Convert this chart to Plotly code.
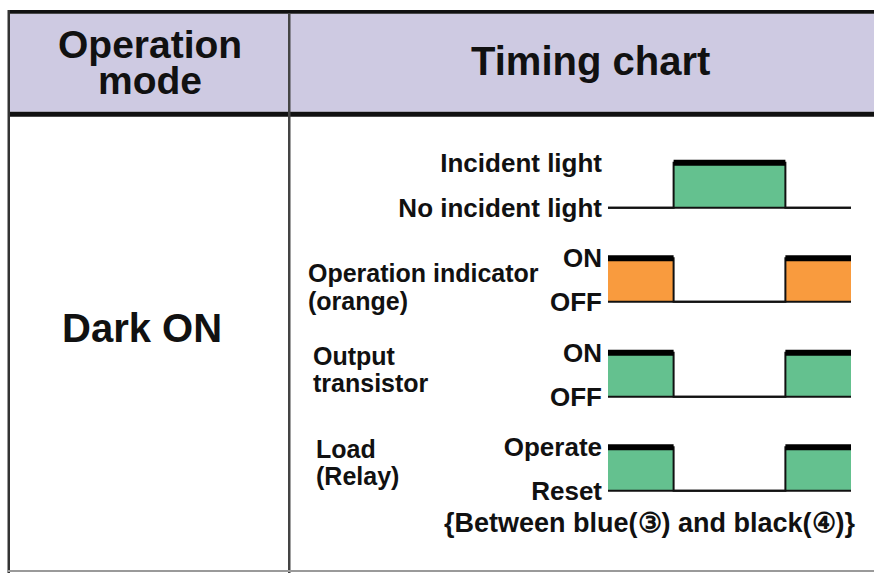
import plotly.graph_objects as go

W, H = 874, 579

# ---- data ----
times = [0, 2.7, 7.3, 10]                      # transition instants (time units)
incident_states = [0, 1, 0]                    # state in each interval
indicator_states = [1, 0, 1]
output_states = [1, 0, 1]
load_states = [1, 0, 1]

signal_states = [incident_states, indicator_states, output_states, load_states]
level_labels = [["No incident light", "Incident light"],
                ["OFF", "ON"],
                ["OFF", "ON"],
                ["Reset", "Operate"]]
side_labels = [None, ["Operation indicator", "(orange)"],
               ["Output", "transistor"], ["Load", "(Relay)"]]
header_left = ["Operation", "mode"]
header_right = "Timing chart"
mode_label = "Dark ON"
footnote = "{Between blue(③) and black(④)}"

# ---- styling / layout ----
fill_colors = ["#64c18f", "#f99b3e", "#64c18f", "#64c18f"]
# pixel rows: (low level, high level centre)
rows_px = [(206, 160), (302, 257.5), (399, 354), (495, 450.5)]
side_px = [None, (306, 273, 301), (311, 357, 385), (314, 452, 480)]
FONT = "Liberation Sans"


def px(x):
    return x / W


def py(y):
    return 1 - y / H


fig = go.Figure()

# x axis (time)
x0_px, x1_px = 608, 851
t0, t1 = times[0], times[-1]
xpad = 0.04
scale = (x1_px - x0_px) / (t1 - t0)
fig.update_layout(xaxis=dict(
    range=[t0 - xpad, t1 + xpad],
    domain=[px(x0_px - xpad * scale), px(x1_px + xpad * scale)],
    visible=False, fixedrange=True))

ypad = 0.2
for i, states in enumerate(signal_states):
    low, high = rows_px[i]
    p0, p1 = py(low), py(high)
    s = p1 - p0
    axname = "yaxis" if i == 0 else f"yaxis{i + 1}"
    yref = "y" if i == 0 else f"y{i + 1}"
    fig.update_layout({axname: dict(
        range=[-ypad, 1 + ypad],
        domain=[p0 - ypad * s, p1 + ypad * s],
        anchor="x",
        tickvals=[0, 1], ticktext=level_labels[i],
        tickfont=dict(family=FONT, size=26, color="#111", weight="bold"),
        ticks="", ticklabelstandoff=4,
        showgrid=False, zeroline=False, showline=False, fixedrange=True)})

    ys = list(states) + [states[-1]]
    # filled area
    fig.add_trace(go.Scatter(x=times, y=ys, yaxis=yref, mode="lines",
                             line=dict(shape="hv", width=0, color=fill_colors[i]),
                             fill="tozeroy", fillcolor=fill_colors[i],
                             hoverinfo="skip", showlegend=False))
    # baseline
    fig.add_trace(go.Scatter(x=[t0, t1], y=[0, 0], yaxis=yref, mode="lines",
                             line=dict(width=2, color="#111"),
                             hoverinfo="skip", showlegend=False))
    # outline with edges
    fig.add_trace(go.Scatter(x=times, y=ys, yaxis=yref, mode="lines",
                             line=dict(shape="hv", width=2, color="#111"),
                             hoverinfo="skip", showlegend=False))
    # thick top bar on high intervals
    bx, by = [], []
    for k, st in enumerate(states):
        if st == 1:
            bx += [times[k], times[k + 1], None]
            by += [1, 1, None]
    fig.add_trace(go.Scatter(x=bx, y=by, yaxis=yref, mode="lines",
                             line=dict(width=6, color="#000"),
                             hoverinfo="skip", showlegend=False))

# ---- table frame ----
shapes = []


def rect(xa, ya, xb, yb, color, layer="below"):
    shapes.append(dict(type="rect", xref="paper", yref="paper",
                       x0=px(xa), x1=px(xb), y0=py(yb), y1=py(ya),
                       fillcolor=color, line=dict(width=0), layer=layer))


rect(9, 8, W, 108, "#cecae2")               # header background
rect(8, 4, W, 8, "#111", "above")           # top rule
rect(8, 108, W, 113, "#111", "above")       # header rule
rect(7.5, 4, 10, H, "#333", "above")        # left rule
rect(288, 8, 290.5, H, "#444", "above")     # column divider
rect(8, 576, W, 578, "#9a9a9a", "above")    # bottom rule

ann = []


def text(x, y, t, size, anchor="center", weight="bold"):
    ann.append(dict(x=px(x), y=py(y), xref="paper", yref="paper", text=t,
                    showarrow=False, xanchor=anchor, yanchor="middle",
                    font=dict(family=FONT, size=size, color="#111", weight=weight)))


text(150, 39, header_left[0], 39)
text(150, 76, header_left[1], 39)
text(590, 56, header_right, 40)
text(142, 329, mode_label, 40)
for i, lab in enumerate(side_labels):
    if lab:
        x, ya, yb = side_px[i]
        text(x, ya, lab[0], 25, "left")
        text(x, yb, lab[1], 25, "left")
text(650, 528, footnote, 27)

fig.update_layout(width=W, height=H, margin=dict(l=0, r=0, t=0, b=0),
                  paper_bgcolor="white", plot_bgcolor="rgba(0,0,0,0)",
                  shapes=shapes, annotations=ann, showlegend=False)

fig.write_html("out.html", config={"displayModeBar": False},
               post_script="document.body.style.margin='0';")
